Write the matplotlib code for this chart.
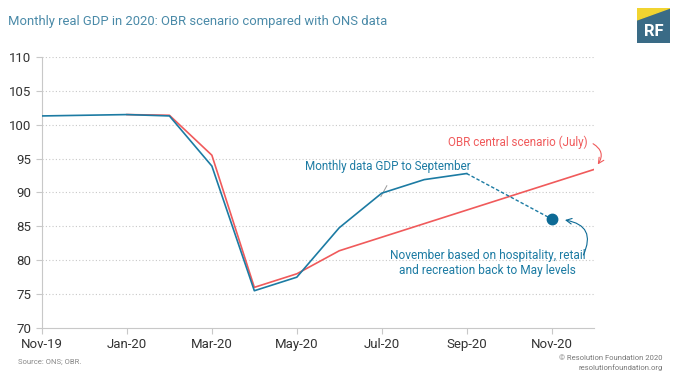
import numpy as np
import matplotlib.pyplot as plt
from matplotlib.patches import Polygon, Rectangle

plt.rcParams['font.family'] = ['Roboto', 'DejaVu Sans']

# month index: 0 = Nov-19 ... 13 = Dec-20
ons_months = [0, 1, 2, 3, 4, 5, 6, 7, 8, 9, 10]
ons_gdp = [101.3, 101.4, 101.5, 101.3, 93.9, 75.5, 77.5, 84.8, 89.9, 91.9, 92.8]

obr_months = [2, 3, 4, 5, 6, 7, 8, 9, 10, 11, 12, 13]
obr_gdp = [101.5, 101.4, 95.5, 76.0, 78.0, 81.4, 83.4, 85.4, 87.4, 89.4, 91.4, 93.4]

nov_months = [10, 12]
nov_gdp = [92.8, 86.1]

tick_pos = [0, 2, 4, 6, 8, 10, 12]
tick_labels = ['Nov-19', 'Jan-20', 'Mar-20', 'May-20', 'Jul-20', 'Sep-20', 'Nov-20']

BLUE = '#1c7ba3'
RED = '#f05a5b'
DOT = '#0d6a95'
TITLE = '#4a8aa8'

fig = plt.figure(figsize=(6.8, 3.83), dpi=100)
ax = fig.add_axes([0.0618, 0.1436, 0.8118, 0.7076])

# gridlines
for yv in range(75, 111, 5):
    ax.axhline(yv, color='#c8c8c8', lw=0.8, ls=(0, (1, 2)), zorder=0)

ax.plot(obr_months, obr_gdp, color=RED, lw=1.2, zorder=3)
ax.plot(ons_months, ons_gdp, color=BLUE, lw=1.2, zorder=4)
ax.plot(nov_months, nov_gdp, color=BLUE, lw=1.0, ls=(0, (2.5, 1.5)), zorder=4)
ax.plot(nov_months[-1:], nov_gdp[-1:], 'o', color=DOT, ms=7.5, zorder=5)

ax.set_xlim(0, 13)
ax.set_ylim(70, 110)
ax.set_yticks(range(70, 111, 5))
ax.set_xticks(tick_pos)
ax.set_xticklabels(tick_labels)

for s in ['top', 'right']:
    ax.spines[s].set_visible(False)
for s in ['left', 'bottom']:
    ax.spines[s].set_color('#c8c8c8')
    ax.spines[s].set_linewidth(0.8)
ax.tick_params(axis='both', colors='#c8c8c8', labelcolor='#333333',
               labelsize=9.5, length=4, width=0.8)
ax.tick_params(axis='x', pad=3)

# annotations
ax.text(12.86, 97.4, 'OBR central scenario (July)', color=RED, fontsize=8.4,
        ha='right', va='center')
ax.annotate('', xy=(13.05, 93.8), xytext=(12.92, 97.4),
            arrowprops=dict(arrowstyle='->', color=RED, lw=0.8,
                            connectionstyle='arc3,rad=-0.6'),
            annotation_clip=False)

ax.text(8.15, 93.9, 'Monthly data GDP to September', color=BLUE, fontsize=8.4,
        ha='center', va='center')
ax.plot([8.12, 7.98], [91.0, 89.4], color='#999999', lw=0.7)

ax.text(10.5, 79.6, 'November based on hospitality, retail\nand recreation back to May levels',
        color=BLUE, fontsize=8.6, ha='center', va='center', linespacing=1.15)
ax.annotate('', xy=(12.25, 86.0), xytext=(12.72, 80.4),
            arrowprops=dict(arrowstyle='->', color=DOT, lw=0.8,
                            connectionstyle='arc3,rad=0.7'))

# titles and footers
fig.text(0.012, 0.943, 'Monthly real GDP in 2020: OBR scenario compared with ONS data',
         color=TITLE, fontsize=9.4, ha='left', va='center')
fig.text(0.026, 0.055, 'Source: ONS; OBR.', color='#888888', fontsize=5.5,
         ha='left', va='center')
fig.text(0.974, 0.052, '\u00a9 Resolution Foundation 2020\nresolutionfoundation.org',
         color='#777777', fontsize=5.5, ha='right', va='center', linespacing=1.7)

# logo
lax = fig.add_axes([637 / 680, 1 - 43 / 383, 33 / 680, 35 / 383])
lax.set_xlim(0, 1)
lax.set_ylim(0, 1)
lax.axis('off')
lax.add_patch(Rectangle((0, 0), 1, 1, color='#3a6b86'))
lax.add_patch(Polygon([(0, 1), (1, 1), (0, 0.66)], color='#f1d430'))
lax.text(0.5, 0.32, 'RF', color='white', fontsize=12, fontweight='bold',
         ha='center', va='center')

fig.savefig('out.png', dpi=100)
